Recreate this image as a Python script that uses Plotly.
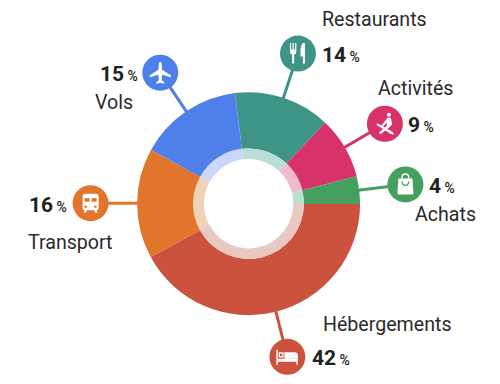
import math, re
import plotly.graph_objects as go

categories = ["Restaurants", "Activités", "Achats", "Hébergements", "Transport", "Vols"]
values = [14, 9, 4, 42, 16, 15]
colors = ["#3f9488", "#d8326a", "#45a060", "#cb523c", "#e0752b", "#4f80ea"]
ring_colors = ["#b9ddd7", "#f0b9cf", "#b9e0cf", "#e8c8c2", "#efd2b8", "#c9d8f8"]

W, H = 500, 384
CX, CY = 248.6, 203.7
R_OUT, R_RING, R_HOLE = 111.5, 55.3, 44.7
R_ICON, ICON_R = 158, 18
START = -7

def dom(r):
    return dict(x=[(CX - r) / W, (CX + r) / W], y=[(H - CY - r) / H, (H - CY + r) / H])

fig = go.Figure()

# Leaders and discs placed at each slice's mid-angle
total = sum(values)
acc = 0
centers = {}
for c, v, col in zip(categories, values, colors):
    mid = math.radians(START + (acc + v / 2) / total * 360)
    acc += v
    s, k = math.sin(mid), -math.cos(mid)
    centers[c] = (CX + R_ICON * s, CY + R_ICON * k)
    fig.add_trace(go.Scatter(
        x=[CX + (R_OUT - 1) * s, CX + R_ICON * s], y=[CY + (R_OUT - 1) * k, CY + R_ICON * k],
        mode="lines", line=dict(color=col, width=3), hoverinfo="skip", showlegend=False))
    fig.add_trace(go.Scatter(
        x=[CX + R_ICON * s], y=[CY + R_ICON * k], mode="markers",
        marker=dict(color=col, size=ICON_R * 2, line=dict(width=0)), hoverinfo="skip", showlegend=False))

fig.add_trace(go.Pie(labels=categories, values=values, sort=False, direction="clockwise",
                     rotation=START, hole=R_RING / R_OUT, domain=dom(R_OUT), textinfo="none",
                     marker=dict(colors=colors, line=dict(width=0)), showlegend=False))
fig.add_trace(go.Pie(labels=categories, values=values, sort=False, direction="clockwise",
                     rotation=START, hole=R_HOLE / R_RING, domain=dom(R_RING), textinfo="none",
                     marker=dict(colors=ring_colors, line=dict(width=0)), showlegend=False))

def shift(path, cx, cy):
    out, i = [], 0
    for tok in re.findall(r"[A-Za-z]|-?\d+\.?\d*", path):
        if tok.isalpha():
            out.append(tok)
        else:
            out.append(f"{float(tok) + (cx if i % 2 == 0 else cy):.2f}")
            i += 1
    return " ".join(out)

shapes = []
def P(c, path, fill="white", line=None, width=0):
    cx, cy = centers[c]
    shapes.append(dict(type="path", xref="x", yref="y", path=shift(path, cx, cy),
                       fillcolor=fill, line=dict(color=line or "rgba(0,0,0,0)", width=width)))

# Plane
P("Vols", "M -1.3 -10 Q 0 -11.5 1.3 -10 L 1.8 -3 L 10.5 2.5 L 10.5 4.5 L 1.8 2 L 1.4 7.5 L 4 9.5 L 4 11 L 0 10 L -4 11 L -4 9.5 L -1.4 7.5 L -1.8 2 L -10.5 4.5 L -10.5 2.5 L -1.8 -3 Z")
# Fork and knife
P("Restaurants", "M -8 -10.5 L -6.8 -10.5 L -6.8 -4 L -5.4 -4 L -5.4 -10.5 L -4.2 -10.5 L -4.2 -4 L -2.8 -4 L -2.8 -10.5 L -1.6 -10.5 L -1.6 -2 Q -1.6 0.5 -3.8 1 L -3.8 10 L -5.8 10 L -5.8 1 Q -8 0.5 -8 -2 Z")
P("Restaurants", "M 5 -10.5 L 7 -10.5 L 7 10 L 5 10 L 5 3 L 2.5 3 L 2.5 -2 Q 2.5 -8 5 -10.5 Z")
# Paddler
cx, cy = centers["Activités"]
shapes.append(dict(type="circle", xref="x", yref="y", x0=cx + 2, x1=cx + 6, y0=cy - 11, y1=cy - 7, fillcolor="white", line=dict(width=0)))
P("Activités", "M 2.2 -6 L 6 -6 L 7.2 0.5 L 4.5 3.5 L -4.5 10.5 L -6 9 L 1.8 2 Z")
P("Activités", "M -7.5 -0.5 L 7 7.8 L 9.5 11 L 5.5 10 L -8.5 1 Z")
P("Activités", "M 3.5 -3 L -3 4 L -4.5 3 L 2 -5 Z")
# Bag
P("Achats", "M -7 -6 L 7 -6 L 8 8.5 Q 8 10 6.5 10 L -6.5 10 Q -8 10 -8 8.5 Z")
P("Achats", "M -3.5 -6 Q -3.5 -10.5 0 -10.5 Q 3.5 -10.5 3.5 -6", fill="rgba(0,0,0,0)", line="white", width=1.4)
P("Achats", "M -3.5 -3 Q -3 1 0 1 Q 3 1 3.5 -3", fill="rgba(0,0,0,0)", line="#45a060", width=1.2)
# Bed
P("Hébergements", "M -11 -7 L -9.5 -7 L -9.5 2 L 10.5 2 L 10.5 8 L 9 8 L 9 5 L -9.5 5 L -9.5 8 L -11 8 Z")
P("Hébergements", "M -3 -4.5 L 7.5 -4.5 Q 10.5 -4.5 10.5 -1.5 L 10.5 2 L -3 2 Z")
cx, cy = centers["Hébergements"]
shapes.append(dict(type="rect", xref="x", yref="y", x0=cx - 8, x1=cx - 4.5, y0=cy - 4, y1=cy, fillcolor="rgba(0,0,0,0)", line=dict(color="white", width=1.3)))
# Bus
P("Transport", "M -8 -7 Q -8 -9.5 -5 -9.5 L 5 -9.5 Q 8 -9.5 8 -7 L 8 5 Q 8 7 6 7 L 7 9.5 L 5 9.5 L 3.5 7 L -3.5 7 L -5 9.5 L -7 9.5 L -6 7 Q -8 7 -8 5 Z")
P("Transport", "M -6 -5 L -1 -5 L -1 -1.5 L -6 -1.5 Z", fill="#e0752b")
P("Transport", "M 1 -5 L 6 -5 L 6 -1.5 L 1 -1.5 Z", fill="#e0752b")
P("Transport", "M -6 2.5 L -3.5 2.5 L -3.5 4.5 L -6 4.5 Z", fill="#e0752b")
P("Transport", "M 3.5 2.5 L 6 2.5 L 6 4.5 L 3.5 4.5 Z", fill="#e0752b")

TXT = "#2a2a2a"
LABEL_FONT = dict(family="Roboto", size=19.6, color=TXT)
def label(t, x, y, anchor):
    fig.add_annotation(xref="x", yref="y", x=x, y=y, text=t, showarrow=False, xanchor=anchor,
                       yanchor="middle", font=LABEL_FONT, borderpad=0, borderwidth=0)
def pct(v, x, y, anchor):
    fig.add_annotation(xref="x", yref="y", x=x, y=y, showarrow=False, xanchor=anchor, yanchor="middle",
                       text=f"<b>{v}</b><span style='font-size:14px;font-weight:500'> %</span>",
                       font=dict(family="Roboto", size=21, color="#222222"), borderpad=0, borderwidth=0)

for c, x, y, a in [("Restaurants", 322, 19, "left"), ("Activités", 378, 88, "left"),
                   ("Achats", 415, 214, "left"), ("Hébergements", 323, 324, "left"),
                   ("Transport", 28, 242, "left"), ("Vols", 95, 102, "left")]:
    label(c, x, y, a)
for v, x, y, a in [(14, 322, 55, "left"), (9, 408, 125, "left"), (4, 429, 186, "left"),
                   (42, 312, 358, "left"), (16, 29, 205, "left"), (15, 100, 74, "left")]:
    pct(v, x, y, a)

fig.update_layout(
    width=W, height=H, margin=dict(l=0, r=0, t=0, b=0), paper_bgcolor="white", plot_bgcolor="white",
    showlegend=False, shapes=shapes,
    xaxis=dict(range=[0, W], visible=False, domain=[0, 1], fixedrange=True),
    yaxis=dict(range=[H, 0], visible=False, domain=[0, 1], fixedrange=True),
)
fig.write_html("out.html", config=dict(displayModeBar=False),
               post_script="document.body.style.margin='0';document.documentElement.style.overflow='hidden';")
